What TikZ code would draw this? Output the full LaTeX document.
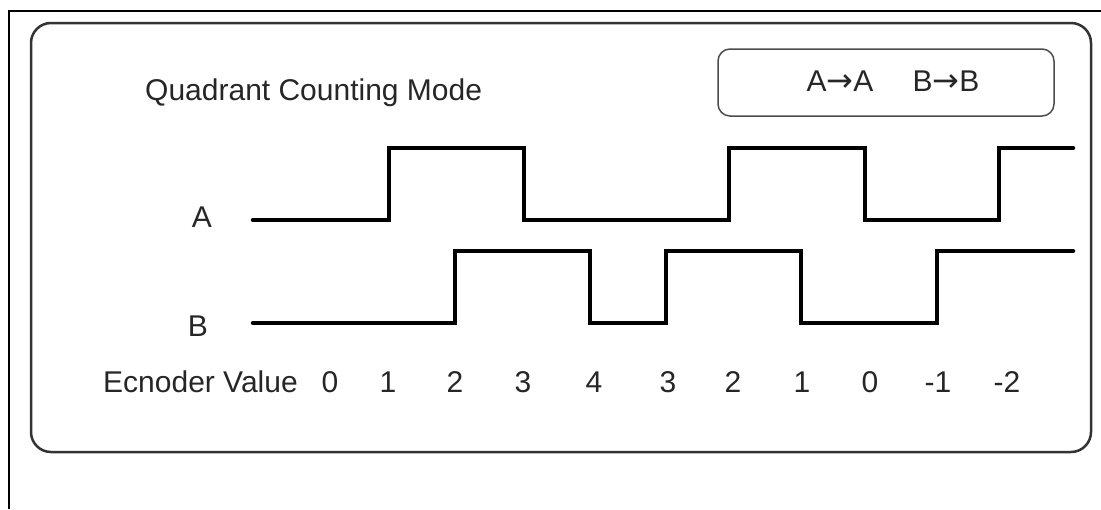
\documentclass[tikz,border=0pt]{standalone}
\usepackage{fontspec}
\setmainfont{Liberation Sans}
\newfontfamily\arrowfont{DejaVu Sans}
\begin{document}
\begin{tikzpicture}[
  x=1pt, y=-1pt,
  frame/.style={line width=2pt},
  panel/.style={draw=black!80, line width=2.5pt, rounded corners=20pt},
  keybox/.style={draw=black!70, line width=1.5pt, rounded corners=12pt},
  wave/.style={line width=4.5pt, line cap=round},
  lbl/.style={font=\fontsize{30}{36}\selectfont, text=black!85, anchor=base, inner sep=0pt}
]
\useasboundingbox (0,0) rectangle (1101,509);
\draw[frame] (9,509) -- (9,11) -- (1101,11);
\draw[panel] (31,23) rectangle (1091,452);
\draw[keybox] (718,49) rectangle (1054,116);

\node[lbl, anchor=base west] (title) at (145,100) {Quadrant Counting Mode};
\node[lbl] (mapA) at (840,91) {A{\arrowfont\fontsize{32}{36}\selectfont →}A};
\node[lbl] (mapB) at (946,91) {B{\arrowfont\fontsize{32}{36}\selectfont →}B};

\node[lbl] (sigA) at (202,227) {A};
\node[lbl] (sigB) at (198,336) {B};

% channel A and channel B
\draw[wave] (253,220) -| (389,148) -| (524,220) -| (729,148) -| (865,220) -| (999,148) -- (1073,148);
\draw[wave] (253,323) -| (455,251) -| (590,323) -| (666,251) -| (801,323) -| (937,251) -- (1073,251);

\node[lbl, anchor=base west] (enc) at (103,392) {Ecnoder Value};
\foreach \x/\v [count=\i] in {330/0, 388/1, 455/2, 523/3, 594/4, 668/3, 733/2, 802/1, 870/0, 938/-1, 1007/-2}
  \node[lbl] (val\i) at (\x,392) {\v};
\end{tikzpicture}
\end{document}
